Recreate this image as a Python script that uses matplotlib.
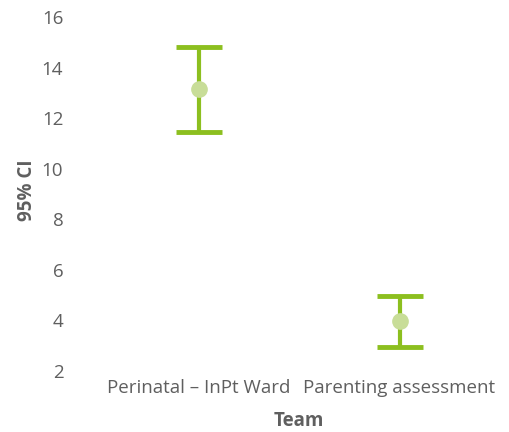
import matplotlib.pyplot as plt
import numpy as np

# data
teams = ['Perinatal – InPt Ward', 'Parenting assessment']
mean_val = np.array([13.15, 3.98])
ci_low = np.array([11.45, 2.96])
ci_high = np.array([14.81, 4.97])

plt.rcParams['font.family'] = ['Open Sans', 'DejaVu Sans']
text_col = '#5f5f5f'

fig = plt.figure(figsize=(5.09, 4.32), dpi=100)
ax = fig.add_axes([98 / 509, 61 / 432, 402 / 509, 354 / 432])

x = np.arange(len(teams))
ax.errorbar(x, mean_val, yerr=[mean_val - ci_low, ci_high - mean_val],
            fmt='none', ecolor='#8cbf1f', elinewidth=3, capsize=16.5, capthick=3.5)
ax.plot(x, mean_val, 'o', color='#c8dd98', markersize=11, zorder=3)

ax.set_xlim(-0.5, 1.5)
ax.set_ylim(2, 16)
ax.set_yticks([2, 4, 6, 8, 10, 12, 14, 16])
ax.set_xticks(x)
ax.set_xticklabels(teams)
ax.tick_params(length=0, labelsize=13.5, colors=text_col, pad=6)
ax.tick_params(axis='y', pad=25)
for s in ax.spines.values():
    s.set_visible(False)

ax.set_xlabel('Team', fontsize=13.5, fontweight='bold', color=text_col)
ax.set_ylabel('95% CI', fontsize=13.5, fontweight='bold', color=text_col)
ax.xaxis.set_label_coords(0.5, -0.113)
ax.yaxis.set_label_coords(-0.152, 0.51)

fig.savefig('out.png', dpi=100)
